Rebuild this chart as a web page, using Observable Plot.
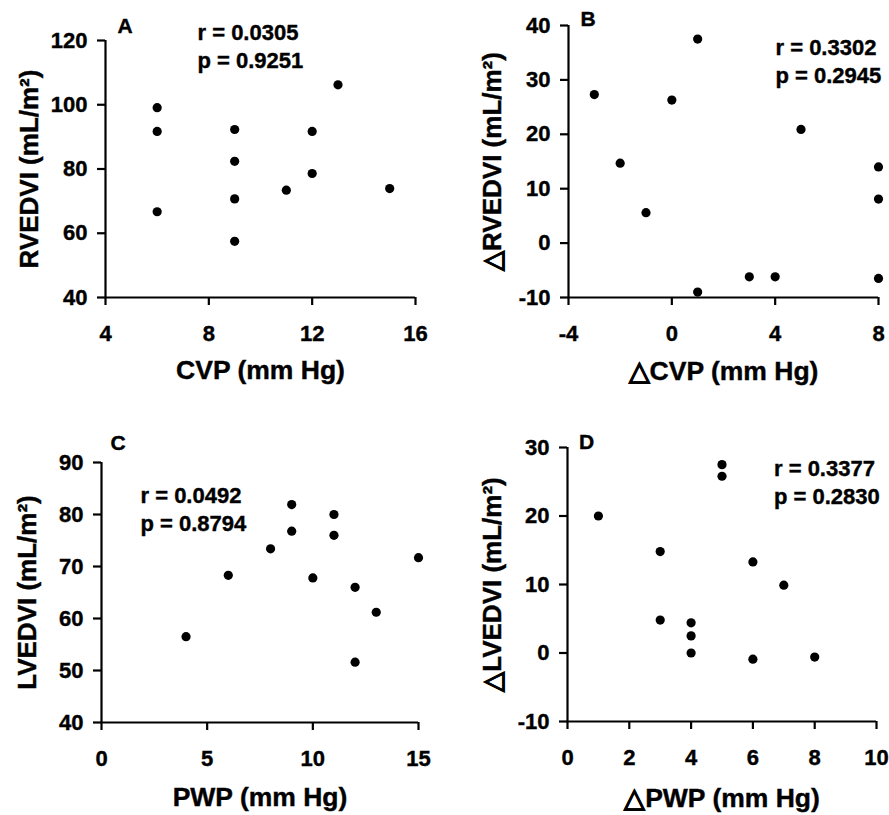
<!DOCTYPE html>
<html>
<head>
<meta charset="utf-8">
<script src="https://cdn.jsdelivr.net/npm/d3@7"></script>
<script src="https://cdn.jsdelivr.net/npm/@observablehq/plot@0.6"></script>
<style>
  html, body { margin: 0; padding: 0; background: #fff; }
  #root { position: relative; width: 889px; height: 815px; overflow: hidden; background: #fff; }
  .panel { position: absolute; }
  .panel svg { overflow: visible; }
  .panel svg text { font-weight: bold !important; stroke: black; stroke-width: 0.4px; paint-order: stroke; }
</style>
</head>
<body>
<div id="root"></div>
<script>
// ---- Data ----
const cvp     = [6, 6, 6, 9, 9, 9, 9, 11, 12, 12, 13, 15];
const rvedvi  = [99.1, 91.7, 66.7, 92.3, 82.4, 70.7, 57.5, 73.4, 91.7, 78.6, 106.2, 73.9];

const dCvp    = [-3, -2, -1, 0, 1, 1, 3, 4, 5, 8, 8, 8];
const dRvedvi = [27.3, 14.7, 5.6, 26.3, 37.5, -9.0, -6.2, -6.2, 20.9, 14.0, 8.1, -6.5];

const pwp     = [4, 6, 8, 9, 9, 10, 11, 11, 12, 12, 13, 15];
const lvedvi  = [56.5, 68.3, 73.4, 81.9, 76.8, 67.8, 80.0, 76.0, 66.0, 51.6, 61.2, 71.7];

const dPwp    = [1, 3, 3, 4, 4, 4, 5, 5, 6, 6, 7, 8];
const dLvedvi = [20.0, 14.8, 4.8, 4.4, 2.5, 0.0, 27.5, 25.8, 13.3, -0.9, 9.9, -0.6];

// tick values
const ticksAx = [4, 8, 12, 16],      ticksAy = [40, 60, 80, 100, 120];
const ticksBx = [-4, 0, 4, 8],       ticksBy = [-10, 0, 10, 20, 30, 40];
const ticksCx = [0, 5, 10, 15],      ticksCy = [40, 50, 60, 70, 80, 90];
const ticksDx = [0, 2, 4, 6, 8, 10], ticksDy = [-10, 0, 10, 20, 30];

// labels & statistics
const panelLetters = ["A", "B", "C", "D"];
const rValues = ["0.0305", "0.3302", "0.0492", "0.3377"];
const pValues = ["0.9251", "0.2945", "0.8794", "0.2830"];
const xTitles = ["CVP (mm Hg)", "\u25B3CVP (mm Hg)", "PWP (mm Hg)", "\u25B3PWP (mm Hg)"];
const yTitles = ["RVEDVI (mL/m\u00B2)", "\u25B3RVEDVI (mL/m\u00B2)", "LVEDVI (mL/m\u00B2)", "\u25B3LVEDVI (mL/m\u00B2)"];

const FONT = "'Liberation Sans', Arial, Helvetica, sans-serif";

function panel(cfg) {
  const data = cfg.xs.map((x, i) => ({x, y: cfg.ys[i]}));
  const fmt = d => String(d);
  const txt = (s, o) => Plot.text([s], Object.assign({text: d => d, fontWeight: "bold", fill: "black"}, o));
  const axisOpts = {fontSize: 22, fontWeight: "bold", fill: "black", stroke: "black", strokeWidth: 2.2, tickFormat: fmt, label: null};
  const chart = Plot.plot({
    width: cfg.width, height: cfg.height,
    marginLeft: cfg.m[0], marginRight: cfg.m[1], marginTop: cfg.m[2], marginBottom: cfg.m[3],
    style: {fontFamily: FONT, fontSize: "22px", fontWeight: "bold", color: "black", background: "transparent", overflow: "visible"},
    x: {domain: cfg.xDomain},
    y: {domain: cfg.yDomain},
    marks: [
      Plot.axisX(Object.assign({ticks: cfg.xTicks, tickSize: 8, tickPadding: 20}, axisOpts)),
      Plot.axisY(Object.assign({ticks: cfg.yTicks, tickSize: 8, tickPadding: 10}, axisOpts)),
      Plot.ruleY([cfg.yDomain[0]], {stroke: "black", strokeWidth: 2.2}),
      Plot.ruleX([cfg.xDomain[0]], {stroke: "black", strokeWidth: 2.2}),
      Plot.dot(data, {x: "x", y: "y", r: 4.6, fill: "black", stroke: "none"}),
      txt(cfg.letter, {frameAnchor: "top-left", textAnchor: "start", lineAnchor: "middle", dx: cfg.letterPos[0], dy: cfg.letterPos[1], fontSize: 21}),
      txt("r = " + cfg.r, {frameAnchor: "top-left", textAnchor: "start", lineAnchor: "middle", dx: cfg.statPos[0], dy: cfg.statPos[1], fontSize: 22}),
      txt("p = " + cfg.p, {frameAnchor: "top-left", textAnchor: "start", lineAnchor: "middle", dx: cfg.statPos[0], dy: cfg.statPos[1] + 28, fontSize: 22}),
      txt(cfg.xTitle, {frameAnchor: "bottom", textAnchor: "middle", lineAnchor: "middle", dy: cfg.xTitleDy, fontSize: 26.5}),
      txt(cfg.yTitle, {frameAnchor: "left", textAnchor: "middle", lineAnchor: "middle", rotate: -90, dx: cfg.yTitleDx, fontSize: 26})
    ]
  });
  const div = document.createElement("div");
  div.className = "panel";
  div.style.left = cfg.left + "px";
  div.style.top = cfg.top + "px";
  div.appendChild(chart);
  document.getElementById("root").appendChild(div);
}

panel({
  xs: cvp, ys: rvedvi, xDomain: [4, 16], yDomain: [40, 120], xTicks: ticksAx, yTicks: ticksAy,
  left: 0, top: 0, width: 445, height: 400, m: [105, 30, 40, 103],
  letter: panelLetters[0], r: rValues[0], p: pValues[0],
  letterPos: [12, -14], statPos: [92, -8],
  xTitle: xTitles[0], yTitle: yTitles[0], xTitleDy: 73, yTitleDx: -76
});
panel({
  xs: dCvp, ys: dRvedvi, xDomain: [-4, 8], yDomain: [-10, 40], xTicks: ticksBx, yTicks: ticksBy,
  left: 445, top: 0, width: 444, height: 400, m: [123, 11, 25, 103],
  letter: panelLetters[1], r: rValues[1], p: pValues[1],
  letterPos: [12, -6], statPos: [207, 22],
  xTitle: xTitles[1], yTitle: yTitles[1], xTitleDy: 74.5, yTitleDx: -76
});
panel({
  xs: pwp, ys: lvedvi, xDomain: [0, 15], yDomain: [40, 90], xTicks: ticksCx, yTicks: ticksCy,
  left: 0, top: 400, width: 445, height: 415, m: [101, 27, 62, 93],
  letter: panelLetters[2], r: rValues[2], p: pValues[2],
  letterPos: [9, -19], statPos: [39, 33.5],
  xTitle: xTitles[2], yTitle: yTitles[2], xTitleDy: 75, yTitleDx: -73.5
});
panel({
  xs: dPwp, ys: dLvedvi, xDomain: [0, 10], yDomain: [-10, 30], xTicks: ticksDx, yTicks: ticksDy,
  left: 445, top: 400, width: 444, height: 415, m: [122, 13, 47, 94],
  letter: panelLetters[3], r: rValues[3], p: pValues[3],
  letterPos: [11.5, -5], statPos: [206.5, 21],
  xTitle: xTitles[3], yTitle: yTitles[3], xTitleDy: 77, yTitleDx: -75
});
</script>
</body>
</html>
